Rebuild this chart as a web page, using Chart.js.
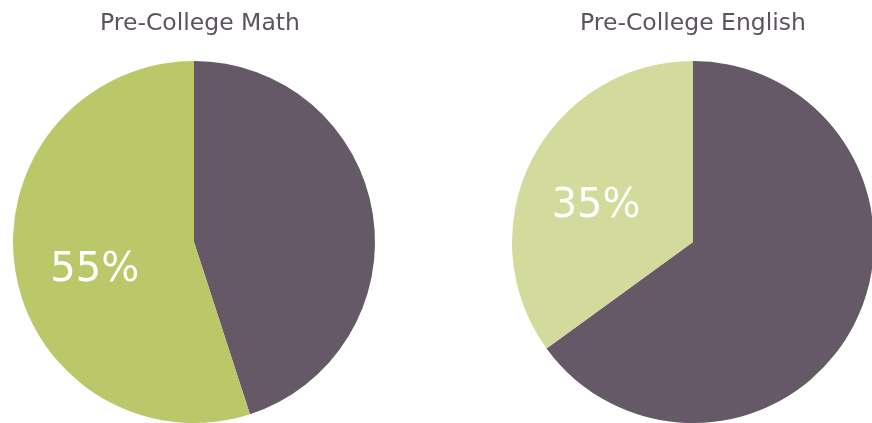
<!DOCTYPE html>
<html lang="en">
<head>
    <meta charset="UTF-8">
    <title>Pre-College Math / English</title>
    <script src="https://cdn.jsdelivr.net/npm/chart.js"></script>
    <style>
        html, body { margin: 0; padding: 0; background: #fff; overflow: hidden; }
        body { width: 872px; height: 423px; position: relative; }
        .box { position: absolute; top: 0; width: 400px; height: 423px; }
    </style>
</head>
<body>
    <div class="box" style="left:0px"><canvas id="mathChart"></canvas></div>
    <div class="box" style="left:499px"><canvas id="englishChart"></canvas></div>

    <script>
        // data
        const categories = ['College-ready', 'Pre-college'];
        const mathValues = [45, 55];
        const englishValues = [65, 35];
        const mathLabels = ['', '55%'];
        const englishLabels = ['', '35%'];

        const darkColor = '#655867';

        // title above the pie, shifted a few px from the pie centre if asked
        const headTitle = {
            id: 'headTitle',
            afterDraw(chart, args, opts) {
                const ctx = chart.ctx;
                const a = chart.chartArea;
                ctx.save();
                ctx.fillStyle = '#5e5161';
                ctx.font = '23.5px "DejaVu Sans"';
                ctx.textAlign = 'center';
                ctx.textBaseline = 'alphabetic';
                ctx.fillText(opts.text, (a.left + a.right) / 2 + (opts.shift || 0), 30);
                ctx.restore();
            }
        };

        // draw the % text inside the slices
        function sliceLabels(labels) {
            return {
                id: 'sliceLabels',
                afterDatasetsDraw(chart) {
                    const ctx = chart.ctx;
                    const arcs = chart.getDatasetMeta(0).data;
                    ctx.save();
                    ctx.fillStyle = '#ffffff';
                    ctx.font = '40px "DejaVu Sans"';
                    ctx.textAlign = 'center';
                    ctx.textBaseline = 'middle';
                    arcs.forEach((arc, i) => {
                        if (!labels[i]) return;
                        const p = arc.getProps(['x', 'y', 'startAngle', 'endAngle', 'outerRadius']);
                        const mid = (p.startAngle + p.endAngle) / 2 - 0.12;
                        const r = p.outerRadius * 0.57;
                        ctx.fillText(labels[i], p.x + Math.cos(mid) * r, p.y + Math.sin(mid) * r);
                    });
                    ctx.restore();
                }
            };
        }

        function makePie(id, title, titleShift, values, colors, labels) {
            return new Chart(document.getElementById(id), {
                type: 'pie',
                data: {
                    labels: categories,
                    datasets: [{
                        data: values,
                        backgroundColor: colors,
                        borderWidth: 0
                    }]
                },
                options: {
                    responsive: true,
                    maintainAspectRatio: false,
                    animation: false,
                    layout: { padding: { top: 61, left: 0, right: 12, bottom: 0 } },
                    plugins: {
                        legend: { display: false },
                        tooltip: { enabled: false },
                        title: { display: false },
                        headTitle: { text: title, shift: titleShift }
                    }
                },
                plugins: [headTitle, sliceLabels(labels)]
            });
        }

        makePie('mathChart', 'Pre-College Math', 6, mathValues, [darkColor, '#bbc86a'], mathLabels);
        makePie('englishChart', 'Pre-College English', 0, englishValues, [darkColor, '#d2db9c'], englishLabels);
    </script>
</body>
</html>
